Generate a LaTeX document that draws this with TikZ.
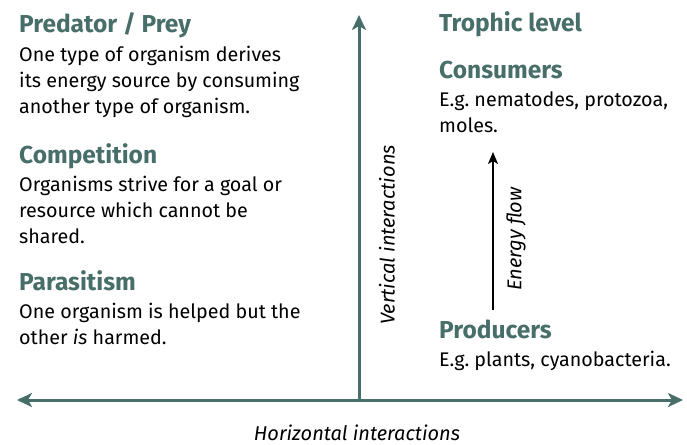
\documentclass[tikz,border=0pt]{standalone}
\usepackage{fontspec}
\setmainfont{Fira Sans}
\usetikzlibrary{arrows.meta}
\definecolor{teal}{HTML}{486E6A}
\frenchspacing
% paragraph whose reference point is the baseline of its first line
\newcommand{\toplines}[1]{\parbox[t]{320pt}{\raggedright #1}}
\begin{document}
\begin{tikzpicture}[x=1pt,y=-1pt,
  head/.style={anchor=base west,inner sep=0pt,text=teal,font=\fontsize{24.5}{26}\selectfont\bfseries},
  body/.style={anchor=base west,inner sep=0pt,font=\fontsize{19.7}{26}\selectfont},
  axis/.style={draw=teal,line width=3pt,-{Stealth[length=15pt,width=14pt,inset=4pt]}},
  flow/.style={draw=black,line width=2pt,-{Stealth[length=12pt,width=10pt,inset=3pt]}},
  axlabel/.style={inner sep=0pt,font=\fontsize{20}{22}\selectfont\itshape}]
\useasboundingbox (0,0) rectangle (687,444);

% axes
\coordinate (O) at (359,400);
\coordinate (L) at (17,400);
\coordinate (R) at (683,400);
\coordinate (T) at (359,15);
\draw[axis,{Stealth[length=15pt,width=14pt,inset=4pt]}-{Stealth[length=15pt,width=14pt,inset=4pt]}] (L) -- (R);
\draw[axis] (O) -- (T);
\node[axlabel,anchor=base] (hlab) at (357,440) {Horizontal interactions};
\node[axlabel,rotate=90] (vlab) at (387,235) {Vertical interactions};

% left column
\node[head] (pp) at (19,33) {Predator / Prey};
\node[body] (ppt) at (19,61) {\toplines{One type of organism derives\\its energy source by consuming\\another type of organism.}};
\node[head] (cp) at (19,163) {Competition};
\node[body] (cpt) at (19,191) {\toplines{Organisms strive for a goal or\\resource which cannot be\\shared.}};
\node[head] (ps) at (19,290) {Parasitism};
\node[body] (pst) at (19,318) {\toplines{One organism is helped but the\\other \textit{is} harmed.}};

% right column
\node[head] (tl) at (439,32) {Trophic level};
\node[head] (cs) at (439,78) {Consumers};
\node[body] (cst) at (439,106) {\toplines{E.g. nematodes, protozoa,\\moles.}};
\node[head] (pr) at (439,338) {Producers};
\node[body] (prt) at (439,366) {E.g. plants, cyanobacteria.};

% energy flow
\coordinate (ef0) at (493,310);
\coordinate (ef1) at (493,152);
\draw[flow] (ef0) -- (ef1);
\node[axlabel,rotate=90] (eflab) at (516,239) {Energy flow};
\end{tikzpicture}
\end{document}
